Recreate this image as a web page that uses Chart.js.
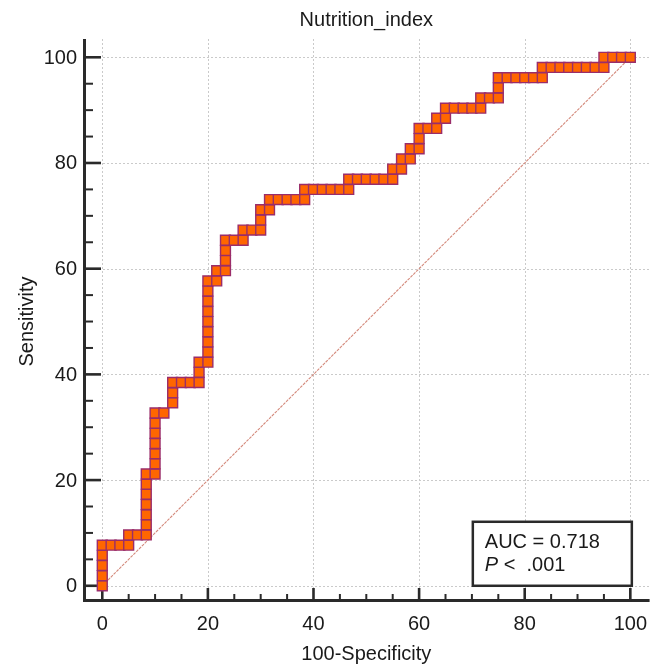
<!DOCTYPE html>
<html>
<head>
<meta charset="utf-8">
<title>Nutrition_index</title>
<script src="https://cdn.jsdelivr.net/npm/chart.js@4.4.1/dist/chart.umd.min.js"></script>
<style>
html,body{margin:0;padding:0;background:#fff;}
canvas{display:block;}
</style>
</head>
<body>
<canvas id="roc" width="658" height="667"></canvas>
<script>
// ROC points, one per cut-off (100-Specificity, Sensitivity in %)
const fpr = [
  0, 0, 0, 0, 0, 1.67, 3.33, 5, 5, 6.67,
  8.33, 8.33, 8.33, 8.33, 8.33, 8.33, 8.33, 10, 10, 10,
  10, 10, 10, 10, 11.67, 13.33, 13.33, 13.33, 15, 16.67,
  18.33, 18.33, 18.33, 20, 20, 20, 20, 20, 20, 20,
  20, 20, 21.67, 21.67, 23.33, 23.33, 23.33, 23.33, 25, 26.67,
  26.67, 28.33, 30, 30, 30, 31.67, 31.67, 33.33, 35, 36.67,
  38.33, 38.33, 40, 41.67, 43.33, 45, 46.67, 46.67, 48.33, 50,
  51.67, 53.33, 55, 55, 56.67, 56.67, 58.33, 58.33, 60, 60,
  60, 61.67, 63.33, 63.33, 65, 65, 66.67, 68.33, 70, 71.67,
  71.67, 73.33, 75, 75, 75, 76.67, 78.33, 80, 81.67, 83.33,
  83.33, 85, 86.67, 88.33, 90, 91.67, 93.33, 95, 95, 96.67,
  98.33, 100
]
const sens = [
  0, 1.92, 3.85, 5.77, 7.69, 7.69, 7.69, 7.69, 9.62, 9.62,
  9.62, 11.54, 13.46, 15.38, 17.31, 19.23, 21.15, 21.15, 23.08, 25,
  26.92, 28.85, 30.77, 32.69, 32.69, 34.62, 36.54, 38.46, 38.46, 38.46,
  38.46, 40.38, 42.31, 42.31, 44.23, 46.15, 48.08, 50, 51.92, 53.85,
  55.77, 57.69, 57.69, 59.62, 59.62, 61.54, 63.46, 65.38, 65.38, 65.38,
  67.31, 67.31, 67.31, 69.23, 71.15, 71.15, 73.08, 73.08, 73.08, 73.08,
  73.08, 75, 75, 75, 75, 75, 75, 76.92, 76.92, 76.92,
  76.92, 76.92, 76.92, 78.85, 78.85, 80.77, 80.77, 82.69, 82.69, 84.62,
  86.54, 86.54, 86.54, 88.46, 88.46, 90.38, 90.38, 90.38, 90.38, 90.38,
  92.31, 92.31, 92.31, 94.23, 96.15, 96.15, 96.15, 96.15, 96.15, 96.15,
  98.08, 98.08, 98.08, 98.08, 98.08, 98.08, 98.08, 98.08, 100, 100,
  100, 100
]
const chanceX = [0, 100]
const chanceY = [0, 100]

const xTicks = [0, 20, 40, 60, 80, 100]
const yTicks = [0, 20, 40, 60, 80, 100]
const minorStep = 5

const titleText = 'Nutrition_index'
const xTitle = '100-Specificity'
const yTitle = 'Sensitivity'
const aucText = 'AUC = 0.718'
const pValue = '.001'

const FONT = '"Liberation Sans", Arial, Helvetica, sans-serif'
const ink = '#2a2a2a'

function seg(ctx, x1, y1, x2, y2) {
  ctx.beginPath()
  ctx.moveTo(x1, y1)
  ctx.lineTo(x2, y2)
  ctx.stroke()
}

// grid, axes, ticks and labels drawn off the chart's own scales
const rocFrame = {
  id: 'rocFrame',
  beforeDatasetsDraw(chart) {
    const {ctx, chartArea: a, scales: {x, y}} = chart
    ctx.save()

    // dotted grid
    ctx.strokeStyle = '#cacaca'
    ctx.lineWidth = 1
    ctx.setLineDash([2, 2])
    xTicks.forEach(v => {
      const px = Math.round(x.getPixelForValue(v)) + 0.5
      seg(ctx, px, a.top, px, a.bottom)
    })
    yTicks.forEach(v => {
      const py = Math.round(y.getPixelForValue(v)) + 0.5
      seg(ctx, a.left, py, a.right, py)
    })
    ctx.setLineDash([])

    // axis lines
    ctx.strokeStyle = ink
    ctx.lineWidth = 3
    seg(ctx, a.left + 1.5, a.top, a.left + 1.5, a.bottom)
    seg(ctx, a.left, a.bottom - 1.5, a.right, a.bottom - 1.5)

    // ticks point into the plot
    for (let v = 0; v <= 100; v += minorStep) {
      const major = v % 20 === 0
      ctx.lineWidth = major ? 2.6 : 2
      const py = y.getPixelForValue(v)
      seg(ctx, a.left, py, a.left + (major ? 18 : 10), py)
      const px = x.getPixelForValue(v)
      seg(ctx, px, a.bottom, px, a.bottom - (major ? 14 : 8))
    }

    // tick labels
    ctx.fillStyle = '#1a1a1a'
    ctx.font = '20px ' + FONT
    ctx.textAlign = 'center'
    ctx.textBaseline = 'alphabetic'
    xTicks.forEach(v => ctx.fillText(String(v), x.getPixelForValue(v), 630))
    ctx.textAlign = 'right'
    ctx.textBaseline = 'middle'
    yTicks.forEach(v => ctx.fillText(String(v), 77, y.getPixelForValue(v) + 1))

    // titles
    ctx.textAlign = 'center'
    ctx.textBaseline = 'alphabetic'
    const midX = x.getPixelForValue(50)
    const midY = y.getPixelForValue(50)
    ctx.fillText(titleText, midX, 26)
    ctx.fillText(xTitle, midX, 660)
    ctx.translate(33, midY)
    ctx.rotate(-Math.PI / 2)
    ctx.fillText(yTitle, 0, 0)
    ctx.restore()
  },
  afterDatasetsDraw(chart) {
    const {ctx, scales: {x, y}} = chart
    const right = x.getPixelForValue(100) + 1.5
    const bottom = y.getPixelForValue(0)
    const w = 159, h = 64
    const left = right - w, top = bottom - h
    ctx.save()
    ctx.fillStyle = '#fff'
    ctx.fillRect(left, top, w, h)
    ctx.strokeStyle = ink
    ctx.lineWidth = 2.5
    ctx.strokeRect(left, top, w, h)

    ctx.fillStyle = '#1a1a1a'
    ctx.textAlign = 'left'
    ctx.textBaseline = 'alphabetic'
    ctx.font = '20px ' + FONT
    ctx.fillText(aucText, left + 12, top + 26)
    ctx.font = 'italic 20px ' + FONT
    ctx.fillText('P', left + 12, top + 49)
    const pw = ctx.measureText('P').width
    ctx.font = '20px ' + FONT
    ctx.fillText(' <  ' + pValue, left + 12 + pw, top + 49)
    ctx.restore()
  }
}

const rocPoints = fpr.map((v, i) => ({x: v, y: sens[i]}))
const chancePoints = chanceX.map((v, i) => ({x: v, y: chanceY[i]}))

new Chart(document.getElementById('roc'), {
  type: 'scatter',
  data: {
    datasets: [
      {
        label: 'Nutrition_index',
        data: rocPoints,
        showLine: true,
        borderColor: '#9a2d6a',
        borderWidth: 1.5,
        pointStyle: 'rect',
        pointRadius: 7,
        pointBackgroundColor: '#ff6600',
        pointBorderColor: '#9a2d6a',
        pointBorderWidth: 1.4,
        clip: false
      },
      {
        label: 'chance',
        data: chancePoints,
        showLine: true,
        borderColor: '#d48a7c',
        borderWidth: 1.1,
        borderDash: [3, 1],
        pointRadius: 0
      }
    ]
  },
  options: {
    responsive: false,
    animation: false,
    layout: {padding: {left: 83, right: 8, top: 39, bottom: 65}},
    scales: {
      x: {type: 'linear', min: -3.65, max: 103.65, display: false},
      y: {type: 'linear', min: -3.07, max: 103.46, display: false}
    },
    plugins: {
      legend: {display: false},
      tooltip: {enabled: false}
    }
  },
  plugins: [rocFrame]
})
</script>
</body>
</html>
